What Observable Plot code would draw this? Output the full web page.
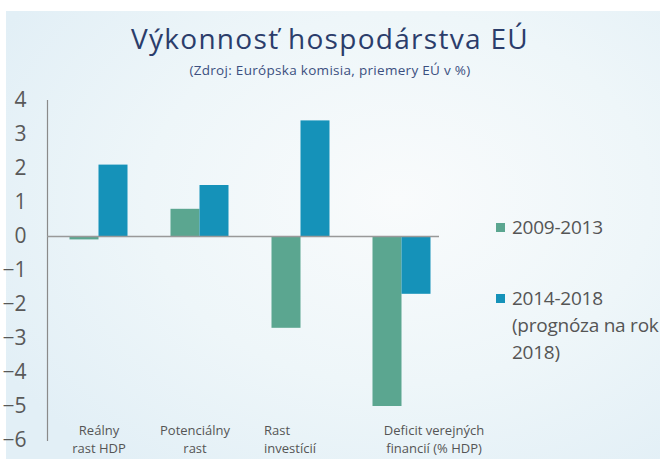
<!DOCTYPE html>
<html><head><meta charset="utf-8">
<script src="https://cdn.jsdelivr.net/npm/d3@7"></script>
<script src="https://cdn.jsdelivr.net/npm/@observablehq/plot@0.6"></script>
<style>
html,body{margin:0;padding:0;background:#fff;}
#wrap{position:relative;width:660px;height:459px;overflow:hidden;font-family:"Open Sans",sans-serif;}
#bg{position:absolute;left:6px;top:11px;right:0;bottom:0;background:radial-gradient(ellipse 70% 75% at 60% 42%, #f9fbfc 0%, #eef6f9 55%, #e2eff6 100%);}
#title{position:absolute;top:19px;left:0;width:660px;text-align:center;font-size:28px;letter-spacing:1.3px;color:#2b3d6b;line-height:38px;white-space:nowrap;}
#sub{position:absolute;top:62px;left:0;width:660px;text-align:center;font-size:13.5px;letter-spacing:0.3px;color:#3b4f80;line-height:16px;white-space:nowrap;}
#chart{position:absolute;left:0;top:85px;}
.leg{position:absolute;left:496px;color:#555;font-size:19px;letter-spacing:-0.25px;line-height:27px;white-space:nowrap;}
.leg .sw{position:absolute;left:0;top:9px;width:9px;height:9px;}
.leg .tx{position:absolute;left:16px;top:0;}
</style>
</head><body>
<div id="wrap">
<div id="bg"></div>
<div id="title">Výkonnosť hospodárstva EÚ</div>
<div id="sub">(Zdroj: Európska komisia, priemery EÚ v %)</div>
<div id="chart"></div>
<div id="legend"></div>
</div>
<script>
const categories = ["Reálny rast HDP", "Potenciálny rast", "Rast investícií", "Deficit verejných financií (% HDP)"];
const categoryLabels = ["Reálny\nrast HDP", "Potenciálny\nrast", "Rast\ninvestícií", "Deficit verejných\nfinancií (% HDP)"];
const series = ["2009-2013", "2014-2018"];
const seriesLegend = [["2009-2013"], ["2014-2018", "(prognóza na rok", "2018)"]];
const values2009_2013 = [-0.1, 0.8, -2.7, -5.0];
const values2014_2018 = [2.1, 1.5, 3.4, -1.7];
const yTicks = [-6, -5, -4, -3, -2, -1, 0, 1, 2, 3, 4];
const colors = ["#5ba690", "#1592b9"];

const data = [];
categories.forEach((c, i) => {
  data.push({category: c, series: series[0], value: values2009_2013[i]});
  data.push({category: c, series: series[1], value: values2014_2018[i]});
});
const labelData = categories.map((c, i) => ({category: c, label: categoryLabels[i]}));
const labelDx = [0, -5, -37, 32];
const labelAnchor = ["middle", "middle", "start", "middle"];

const chart = Plot.plot({
  width: 660,
  height: 374,
  marginTop: 15,
  marginBottom: 19,
  marginLeft: 47,
  marginRight: 207,
  style: {background: "transparent", fontFamily: "Open Sans, sans-serif", overflow: "visible"},
  x: {domain: categories, padding: 0, axis: null},
  y: {domain: [-6, 4], label: null},
  color: {domain: series, range: colors},
  marks: [
    Plot.frame({anchor: "left", stroke: "#8a8a8a", strokeWidth: 1.2}),
    Plot.axisY({ticks: yTicks, tickSize: 0, tickPadding: 21, label: null, fontSize: 21, fill: "#595959"}),
    Plot.barY(data.filter(d => d.series === series[0]), {x: "category", y: "value", fill: "series", insetLeft: 21.5, insetRight: 50.5}),
    Plot.barY(data.filter(d => d.series === series[1]), {x: "category", y: "value", fill: "series", insetLeft: 50.5, insetRight: 21.5}),
    Plot.ruleY([0], {stroke: "#999", strokeWidth: 1.5, insetRight: 14}),
    ...categories.map((c, i) => Plot.text([labelData[i]], {x: "category", text: "label", frameAnchor: "bottom", lineAnchor: "middle", textAnchor: labelAnchor[i], lineHeight: 1.38, fontSize: 13, fill: "#555", dx: labelDx[i], dy: -2}))
  ]
});
document.getElementById("chart").appendChild(chart);
chart.querySelectorAll("text").forEach(t => t.style.fontFamily = "Open Sans, sans-serif");

const legend = document.getElementById("legend");
const legTops = [214, 285];
series.forEach((s, i) => {
  const d = document.createElement("div");
  d.className = "leg";
  d.style.top = legTops[i] + "px";
  d.innerHTML = `<div class="sw" style="background:${colors[i]}"></div><div class="tx">${seriesLegend[i].join("<br>")}</div>`;
  legend.appendChild(d);
});
</script>
</body></html>
